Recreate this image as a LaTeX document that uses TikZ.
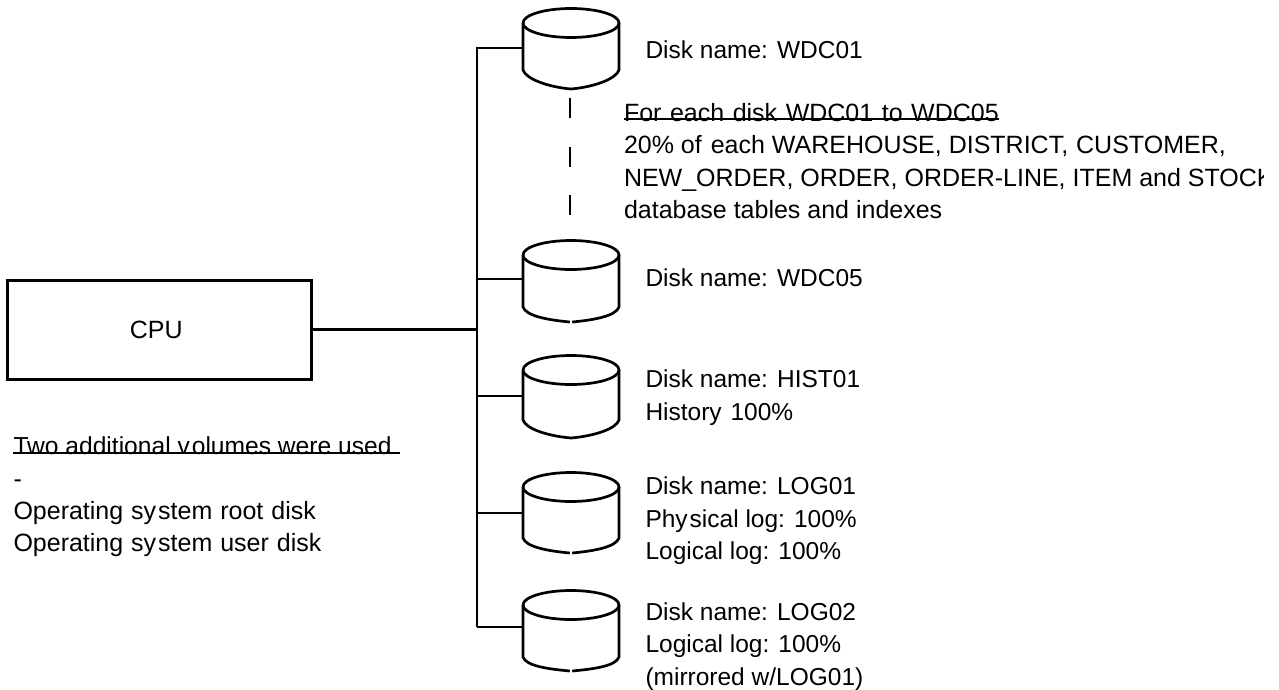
\documentclass[tikz,border=0pt]{standalone}
\usepackage{fontspec}
\setmainfont{Liberation Sans}
\tikzset{
  lbl/.style={anchor=north west,inner sep=0pt,outer sep=0pt,align=left,font=\fontsize{25}{32.2}\selectfont},
  dsk/.style={lbl,font=\fontsize{24.5}{32.6}\selectfont},
  ln/.style={line width=2.7pt,black},
  strike/.style={line width=2.2pt,black},
  dot/.style={inner sep=0pt,minimum size=0pt}
}
% name, ellipse centre y, side end y, bottom y, branch y, half gap at bottom
\newcommand{\diskshape}[6]{%
  \node[dot] (#1) at (571,#2) {};
  \coordinate (#1w) at (523,#5);
  \draw[ln] (523,#2) arc[start angle=180,end angle=-180,x radius=48,y radius=14.5];
  \draw[ln,line join=round] (523,#2) -- (523,#3) .. controls (526,#3+9) and (548,#4-2) .. (571-#6,#4);
  \draw[ln,line join=round] (619,#2) -- (619,#3) .. controls (616,#3+9) and (594,#4-2) .. (571+#6,#4);
}
\newcommand{\kk}{\kern1pt}
\begin{document}
\begin{tikzpicture}[x=1pt,y=-1pt]
\useasboundingbox (0,0) rectangle (1279,690);
\clip (0,0) rectangle (1263,690);
\diskshape{da}{23}{70}{89}{48}{0}
\diskshape{db}{255}{307}{322}{279}{1.2}
\diskshape{dc}{370}{420}{438}{396}{0}
\diskshape{dd}{487}{538}{553}{513}{1.2}
\diskshape{de}{605}{657}{671}{627}{1.2}
\node[draw,line width=3pt,minimum width=303.5pt,minimum height=99pt,inner sep=0pt,font=\fontsize{25}{30}\selectfont] (cpu) at (159.25,329.5) {CPU\kern6pt};
\coordinate (j) at (477,329);
\coordinate (jb) at (477,627);
\coordinate (d1) at (570,98);
\coordinate (d2) at (570,118);
\coordinate (d3) at (570,147);
\coordinate (d4) at (570,167);
\coordinate (d5) at (570,195);
\coordinate (d6) at (570,215);
\draw[ln] (cpu.east) -- (cpu.east-|j);
\draw[ln] (daw) -| (jb);
\draw[ln] (dbw) -- (dbw-|j);
\draw[ln] (dcw) -- (dcw-|j);
\draw[ln] (ddw) -- (ddw-|j);
\draw[ln] (dew) -- (jb);
\draw[ln] (d1) -- (d2);
\draw[ln] (d3) -- (d4);
\draw[ln] (d5) -- (d6);
\node[dsk] (t1) at (645.5,40.5) {Disk name: WDC01};
\node[lbl] (t2) at (624,103.5) {For\kern1.6pt{} each\kern1.6pt{} disk\kern1.6pt{} WDC01\kern1.6pt{} to\kern1.6pt{} WDC05\\20\% of\kern2pt{} each WAREHOUSE, DISTRICT,\kern1pt{} CUSTOMER,\\NEW\_ORDER, ORDER, ORDER-LINE, ITEM and STOCK\\database tables and indexes};
\coordinate (s1a) at (624,119);
\coordinate (s1b) at (999,119);
\draw[strike] (s1a) -- (s1b);
\node[dsk] (t3) at (645.5,269) {Disk name: WDC05};
\node[dsk] (t4) at (645.5,370) {Disk name: HIST01\\History\kern2pt{} 100\%};
\node[dsk] (t5) at (645.5,477) {Disk name: LOG01\\Phy\kern2pt sical log: 100\%\\Logical log: 100\%};
\node[dsk] (t6) at (645.5,602.5) {Disk name: LOG02\\Logical log: 100\%\\(mirrored w/LOG01)};
\node[lbl] (t7) at (13.5,437) {{\fontsize{24.6}{32.2}\selectfont Two additional v\kern2pt olumes were used}\\-\\Operating\kk{} sy\kern2pt stem\kk{} root\kk{} disk\\Operating\kk{} sy\kern2pt stem\kk{} user\kk{} disk};
\coordinate (s2a) at (13,453);
\coordinate (s2b) at (400,453);
\draw[strike] (s2a) -- (s2b);
\end{tikzpicture}
\end{document}
